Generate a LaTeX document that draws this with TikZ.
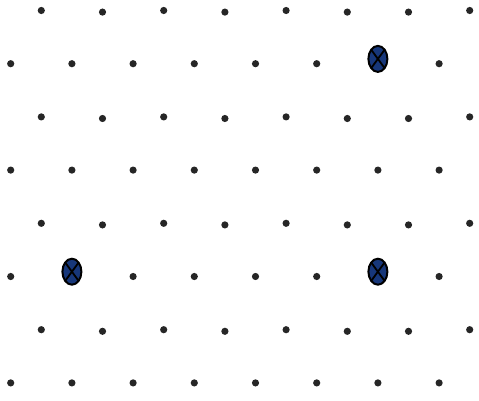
\documentclass[tikz,border=0pt]{standalone}
\usetikzlibrary{shapes.geometric}
\definecolor{mknavy}{HTML}{17377A}
\begin{document}
\begin{tikzpicture}[x=1pt,y=-1pt,
  dot/.style={circle,fill=black!85,inner sep=0pt,minimum size=7.2pt},
  marker/.style={ellipse,draw=black,line width=2pt,fill=mknavy,inner sep=0pt,
    minimum width=19pt,minimum height=26pt,
    path picture={\draw[black,line width=1.8pt]
      (path picture bounding box.north west) -- (path picture bounding box.south east)
      (path picture bounding box.north east) -- (path picture bounding box.south west);}}]
\useasboundingbox (0,0) rectangle (479,401);
\foreach \r in {1,...,8}{
  \foreach \c in {0,...,7}{
    \pgfmathtruncatemacro{\odd}{mod(\r,2)}
    \pgfmathtruncatemacro{\jit}{\odd==1 && (\c==1 || \c==3 || \c==5 || \c==6)}
    \pgfmathtruncatemacro{\ismk}{(\r==2 && \c==6) || (\r==6 && \c==1) || (\r==6 && \c==6)}
    \pgfmathsetmacro{\xx}{10.7+30.6*\odd+61.2*\c}
    \pgfmathsetmacro{\yy}{10.5+(\r-1)*53.2+1.6*\jit}
    \ifnum\ismk=1
      \node[marker] (p-\r-\c) at (\xx,\yy-4.8) {};
    \else
      \node[dot] (p-\r-\c) at (\xx,\yy) {};
    \fi
  }
}
\end{tikzpicture}
\end{document}
